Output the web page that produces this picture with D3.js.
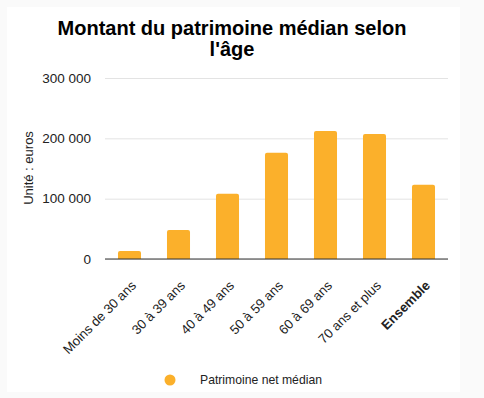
<!DOCTYPE html>
<html>
<head>
<meta charset="utf-8">
<script src="https://cdn.jsdelivr.net/npm/d3@7"></script>
<style>
  body { margin: 0; background: #fafafa; font-family: "Liberation Sans", Arial, sans-serif; }
  svg text { font-family: "Liberation Sans", Arial, sans-serif; }
</style>
</head>
<body>
<svg id="canvas"></svg>
<script>
const categories = ["Moins de 30 ans", "30 à 39 ans", "40 à 49 ans", "50 à 59 ans", "60 à 69 ans", "70 ans et plus", "Ensemble"];
const values = [13300, 48000, 108000, 176000, 212000, 207000, 123000];
const yTicks = [0, 100000, 200000, 300000];
const seriesName = "Patrimoine net médian";

function getChartConfig() {
  let canvasWidth = 484,
    canvasHeight = 398;
  let margin = { top: 78, left: 105, right: 36, bottom: 139 };
  let width = canvasWidth - margin.left - margin.right;
  let height = canvasHeight - margin.top - margin.bottom;
  let svg = d3.select("#canvas").attr("width", canvasWidth).attr("height", canvasHeight);
  return { canvasWidth, canvasHeight, margin, width, height, svg };
}

function getChartScales(config) {
  let { width, height } = config;
  let xScale = d3.scaleBand().domain(categories).range([0, width]).paddingInner(0.53).paddingOuter(0.265);
  let yScale = d3.scaleLinear().domain([0, 300000]).range([height, 0]);
  return { xScale, yScale };
}

const fmt = (v) => d3.format(",")(v).replace(/,/g, " ");

function drawBackground(config) {
  let { svg } = config;
  svg.append("rect").attr("x", 7).attr("y", 7).attr("width", 453).attr("height", 385).attr("fill", "#ffffff");
}

function drawTitle(config) {
  let { svg } = config;
  let t = svg.append("text").attr("text-anchor", "middle").style("font-size", "20px").style("font-weight", "bold").attr("fill", "#000");
  t.append("tspan").attr("x", 232).attr("y", 35).text("Montant du patrimoine médian selon");
  t.append("tspan").attr("x", 232).attr("y", 56).text("l'âge");
}

function drawAxes(scales, config) {
  let { xScale, yScale } = scales;
  let { svg, margin, width, height } = config;

  let grid = svg.append("g").attr("transform", `translate(${margin.left},${margin.top})`)
    .call(d3.axisLeft(yScale).tickValues(yTicks).tickSize(-width).tickFormat(fmt).tickPadding(14));
  grid.select(".domain").remove();
  grid.selectAll(".tick line").attr("stroke", "#e3e3e3");
  grid.selectAll(".tick text").style("font-size", "13.5px").attr("fill", "#222");

  let axisX = svg.append("g").attr("transform", `translate(${margin.left},${margin.top + height})`)
    .call(d3.axisBottom(xScale).tickSize(0));
  axisX.select(".domain").remove();
  axisX.selectAll(".tick text")
    .style("font-size", "13.2px")
    .attr("fill", "#222")
    .style("font-weight", (d) => (d === "Ensemble" ? "bold" : "normal"))
    .attr("text-anchor", "end")
    .attr("dy", "0.35em")
    .attr("transform", "translate(2,22) rotate(-45)");

  svg.append("text")
    .attr("transform", `translate(33,${margin.top + 90}) rotate(-90)`)
    .attr("text-anchor", "middle")
    .style("font-size", "13px")
    .attr("fill", "#222")
    .text("Unité : euros");
}

function drawChart(scales, config) {
  let { xScale, yScale } = scales;
  let { svg, margin, height } = config;
  let g = svg.append("g").attr("transform", `translate(${margin.left},${margin.top})`);
  let r = 2;
  g.selectAll(".bar").data(values).enter().append("path")
    .attr("fill", "#fbb02b")
    .attr("d", (d, i) => {
      let x = xScale(categories[i]), w = xScale.bandwidth(), y = yScale(d), h = height - y;
      return `M${x},${y + h}V${y + r}Q${x},${y} ${x + r},${y}H${x + w - r}Q${x + w},${y} ${x + w},${y + r}V${y + h}Z`;
    });
  g.append("line").attr("x1", 0).attr("x2", config.width).attr("y1", height).attr("y2", height)
    .attr("stroke", "#333").attr("stroke-width", 1);
}

function drawLegend(config) {
  let { svg } = config;
  svg.append("circle").attr("cx", 170).attr("cy", 380).attr("r", 5.5).attr("fill", "#fbb02b");
  svg.append("text").attr("x", 200).attr("y", 384).style("font-size", "12.2px").attr("fill", "#222").text(seriesName);
}

let config = getChartConfig();
let scales = getChartScales(config);
drawBackground(config);
drawTitle(config);
drawAxes(scales, config);
drawChart(scales, config);
drawLegend(config);
</script>
</body>
</html>
